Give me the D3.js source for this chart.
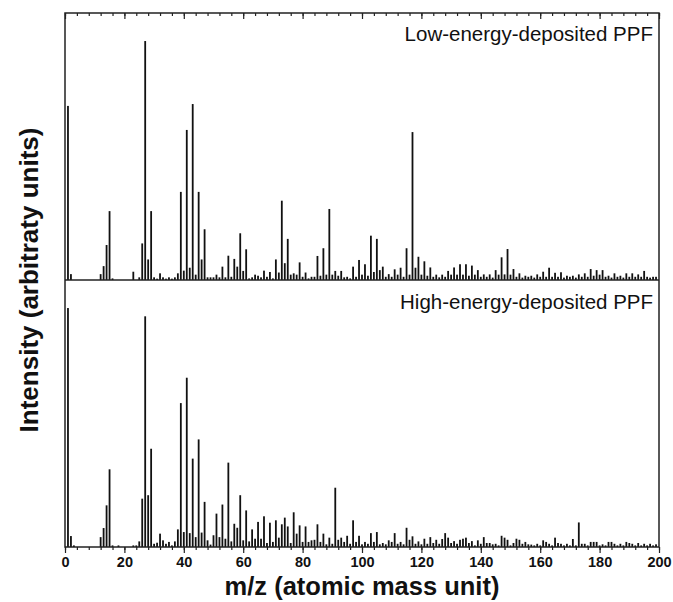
<!DOCTYPE html>
<html><head><meta charset="utf-8">
<script src="https://cdn.jsdelivr.net/npm/d3@7"></script>
<style>
html,body{margin:0;padding:0;background:#fff;}
svg{display:block;font-family:"Liberation Sans",Arial,sans-serif;}
</style></head><body>
<svg id="chart" width="673" height="602"></svg>
<script>
// m/z values 1..199
const mzValues = d3.range(1, 200);
// Low-energy-deposited PPF intensities (index i -> m/z i+1)
const lowEnergy = [
65.2,2.2,0,0,0,0,0,0,0,0, 0,2.2,5.2,13.1,25.8,0.6,0,0,0,0,
0,0,3.1,0,1,13.7,89.5,7.7,25.8,1, 0.5,2.5,1,0.5,1,0.5,1,2.5,33,3.5,
56.2,4.6,65.9,2,33,7.7,19,1,1,1, 2,1,5,1,9.1,1.2,7.9,5,17.5,3.4,
11.5,0.6,1,2,1.6,1,3.5,1.2,3,0.6, 7.7,2.8,29.7,6.3,15.4,2,2.5,2,6.6,1.2,
2.8,0.6,1.2,1.2,9,1.6,11.9,2,26.6,2, 3.4,1.6,3.4,1,1.2,0.6,5,1.2,7.5,2,
5.9,1.6,16.6,3,15.4,3.7,5,1.2,2.2,1.2, 4,2,4.6,1.2,11.9,2,55.4,4.6,8.7,2,
7,1.6,4.7,1.2,2,1,2,1.2,3.4,2, 4.7,2,5.9,2,5.9,1.6,5.4,2,3.7,1.2,
2.1,1.2,2.1,0.9,3.7,2,8.5,2.1,11.6,2, 4.1,1.2,2.5,0.9,1.6,1.2,1.6,0.9,2.1,1.2,
3.1,1.2,4.6,1.2,2.7,1.2,2.9,0.9,1.6,1.2, 1.6,0.9,2.1,1.2,2.5,1.2,4.1,1.6,3.7,2,
3.7,1.2,1.6,0.9,2.5,1.2,1.6,0.9,2.5,1.2, 2.5,1.2,2.1,1.2,3.4,1.2,0.9,1.2,1.2
];
// High-energy-deposited PPF intensities (index i -> m/z i+1)
const highEnergy = [
89.5,4.1,0.6,0,0,0,0,0,0,0, 0,3.7,7.1,15.6,29.1,0.6,0,0.6,0,0,
0,0,0.6,0.6,2.1,18.1,86.4,19.4,36.8,1.2, 1.6,5,2.5,1.2,1.9,0.6,2.1,6.6,53.9,5.6,
63.4,5.2,33.1,3.7,40.3,5.4,16.9,2.5,0.9,4.4, 12.5,3.7,15.9,3.1,31.6,2.1,8.7,7.2,19.4,2.5,
13.7,2.1,6.6,3.1,9.4,3.1,11.5,1.5,9.1,1.9, 10,3.5,8.5,11,7.7,1.5,13,5,8.1,1.9,
7.7,1.9,2.5,2.7,8.5,1.9,5,1,3.5,1.2, 22.2,2.7,3.5,1.9,4.2,1.2,10,1.9,4.2,1,
1.9,1.2,5.2,1.9,5.6,1,1.5,1,2.5,1.9, 5.2,1.2,1.9,1,7.2,2.7,4,1.2,2.1,1,
3.1,1.2,3.7,1.5,2.7,1.2,3,5.2,3.5,1.5, 2.2,1.2,2.7,3.1,3.5,1.5,2.2,0.6,2.5,1.2,
3.7,1.5,1.5,1,1.2,0.6,4.2,3.5,2.7,0.6, 1.5,3.1,2.7,1.2,1.9,1,0.9,0.6,1.2,0.6,
2.5,1.9,1.2,0.6,3.5,1.5,1.2,0.6,1.2,0.6, 3,0.6,9.2,1.2,1.2,0.6,1.9,1.9,1.9,0.6,
1,0.6,1.9,1.9,1.2,0.6,1.2,0.6,1.9,1.5, 1.2,0.6,1.5,0.6,1.2,0.6,1.2,0.6,1
];
const majorTicks = [0,20,40,60,80,100,120,140,160,180,200];
const minorTicks = d3.range(0, 201, 4);
const panelLabels = ["Low-energy-deposited PPF", "High-energy-deposited PPF"];
const xTitle = "m/z (atomic mass unit)";
const yTitle = "Intensity (arbitraty units)";

const svg = d3.select("#chart");
const L = 65, R = 659, T = 13, M = 280, B = 547;
const x = d3.scaleLinear().domain([0, 200]).range([L, R]);
const yTop = d3.scaleLinear().domain([0, 100]).range([M, T]);
const yBot = d3.scaleLinear().domain([0, 100]).range([B, M]);
const bw = 1.8;

function drawBars(vals, y) {
  svg.append("g").selectAll("rect").data(vals.map((v, i) => ({m: mzValues[i], v})).filter(d => d.v > 0))
    .join("rect")
    .attr("x", d => x(d.m) - bw / 2)
    .attr("width", bw)
    .attr("y", d => y(d.v))
    .attr("height", d => y(0) - y(d.v))
    .attr("fill", "#111");
}
drawBars(lowEnergy, yTop);
drawBars(highEnergy, yBot);

// frame
const stroke = "#222";
svg.append("rect").attr("x", L).attr("y", T).attr("width", R - L).attr("height", B - T)
  .attr("fill", "none").attr("stroke", stroke).attr("stroke-width", 1.5);
svg.append("line").attr("x1", L).attr("x2", R).attr("y1", M).attr("y2", M)
  .attr("stroke", stroke).attr("stroke-width", 1.5);

// top inward ticks
const topMinor = d3.axisBottom(x).tickValues(minorTicks).tickSize(3).tickFormat("");
const topMajor = d3.axisBottom(x).tickValues(majorTicks).tickSize(6).tickFormat("");
[topMinor, topMajor].forEach(ax => {
  const g = svg.append("g").attr("transform", `translate(0,${T})`).call(ax);
  g.select(".domain").remove();
  g.selectAll("line").attr("stroke", stroke).attr("stroke-width", 1.2);
});

// bottom axis
const botMinor = d3.axisBottom(x).tickValues(minorTicks).tickSize(3).tickFormat("");
const gm = svg.append("g").attr("transform", `translate(0,${B})`).call(botMinor);
gm.select(".domain").remove();
gm.selectAll("line").attr("stroke", stroke).attr("stroke-width", 1.2);
const botMajor = d3.axisBottom(x).tickValues(majorTicks).tickSize(6).tickPadding(4).tickFormat(d3.format("d"));
const gM = svg.append("g").attr("transform", `translate(0,${B})`).call(botMajor);
gM.select(".domain").remove();
gM.selectAll("line").attr("stroke", stroke).attr("stroke-width", 1.2);
gM.selectAll("text").attr("font-size", 14.5).attr("font-weight", "bold").attr("fill", "#111")
  .attr("font-family", "'Liberation Sans',Arial,sans-serif");

// panel labels
svg.append("text").attr("x", 653).attr("y", 41).attr("text-anchor", "end")
  .attr("font-size", 20.5).attr("fill", "#111").text(panelLabels[0]);
svg.append("text").attr("x", 653).attr("y", 309).attr("text-anchor", "end")
  .attr("font-size", 20.5).attr("fill", "#111").text(panelLabels[1]);

// titles
svg.append("text").attr("x", (L + R) / 2).attr("y", 595).attr("text-anchor", "middle")
  .attr("font-size", 25.5).attr("font-weight", "bold").attr("fill", "#111").text(xTitle);
svg.append("text").attr("transform", `translate(38,${M}) rotate(-90)`).attr("text-anchor", "middle")
  .attr("font-size", 26).attr("font-weight", "bold").attr("fill", "#111").text(yTitle);
</script>
</body></html>
